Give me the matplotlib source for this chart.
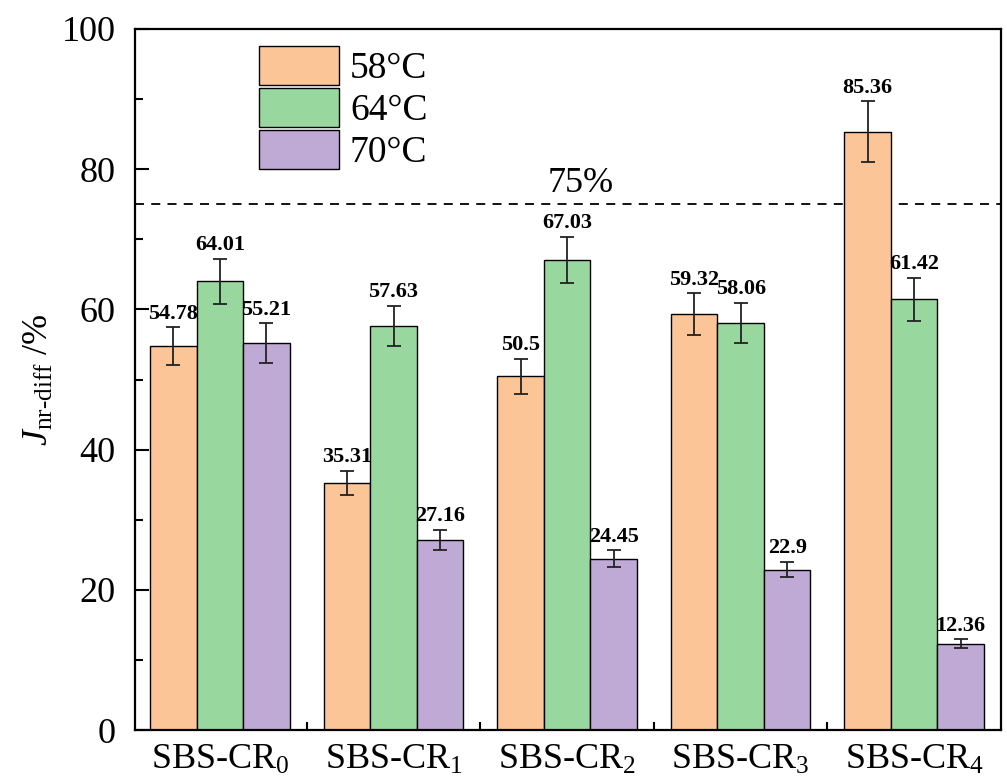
import numpy as np
from matplotlib import pyplot as plt

plt.rcParams['font.family'] = ['Liberation Serif', 'DejaVu Serif']
plt.rcParams['mathtext.fontset'] = 'custom'
plt.rcParams['mathtext.rm'] = 'Liberation Serif'
plt.rcParams['mathtext.it'] = 'Liberation Serif:italic'
plt.rcParams['mathtext.bf'] = 'Liberation Serif:bold'

samples = ['SBS-CR$_0$', 'SBS-CR$_1$', 'SBS-CR$_2$', 'SBS-CR$_3$', 'SBS-CR$_4$']
temps = ['58°C', '64°C', '70°C']
j58 = [54.78, 35.31, 50.5, 59.32, 85.36]
j64 = [64.01, 57.63, 67.03, 58.06, 61.42]
j70 = [55.21, 27.16, 24.45, 22.9, 12.36]
e58 = [2.7, 1.7, 2.5, 3.0, 4.3]
e64 = [3.2, 2.9, 3.3, 2.9, 3.1]
e70 = [2.8, 1.4, 1.2, 1.1, 0.6]
colors = ['#FCC597', '#98D89E', '#BFAAD6']

series = [j58, j64, j70]
errs = [e58, e64, e70]

fig = plt.figure(figsize=(10.07, 7.81), dpi=100)
ax = fig.add_axes([0.134, 0.065, 0.86, 0.898])

x = np.arange(len(samples))
w = 0.268
for i, (vals, err) in enumerate(zip(series, errs)):
    pos = x + (i - 1) * w
    ax.bar(pos, vals, w, color=colors[i], edgecolor='black', linewidth=1.0,
           label=temps[i], zorder=2)
    ax.errorbar(pos, vals, yerr=err, fmt='none', ecolor='#222222',
                elinewidth=1.3, capsize=5, capthick=1.3, zorder=3)
    for p, v, e in zip(pos, vals, err):
        ax.text(p, v + e + 0.5, f'{v:g}', ha='center', va='bottom',
                fontsize=16, fontweight='bold')

ax.axhline(75, color='black', linestyle=(0, (5, 4)), linewidth=1.3, zorder=1)
ax.text(2.08, 75.6, '75%', ha='center', va='bottom', fontsize=26)

ax.set_xlim(-0.49, 4.5)
ax.set_ylim(0, 100)
ax.set_yticks([0, 20, 40, 60, 80, 100])
ax.set_yticks([10, 30, 50, 70, 90], minor=True)
ax.set_xticks(x)
ax.set_xticks(x[:-1] + 0.5, minor=True)
ax.set_xticklabels(samples)
ax.tick_params(axis='both', which='major', direction='in', labelsize=26,
               length=10, width=1.5)
ax.tick_params(axis='both', which='minor', direction='in', length=6, width=1.5)
ax.tick_params(axis='y', which='major', pad=14)
ax.tick_params(axis='x', which='major', pad=10)
for s in ax.spines.values():
    s.set_linewidth(1.6)

ax.set_ylabel(r'$J_{\mathrm{nr\text{-}diff}}$ /%', fontsize=26, labelpad=4)

ax.legend(loc='upper left', bbox_to_anchor=(0.143, 0.976), frameon=False,
          fontsize=27, handlelength=2.13, handleheight=1.22, labelspacing=0.05,
          handletextpad=0.3, borderpad=0, borderaxespad=0)

fig.savefig('out.png', dpi=100)
